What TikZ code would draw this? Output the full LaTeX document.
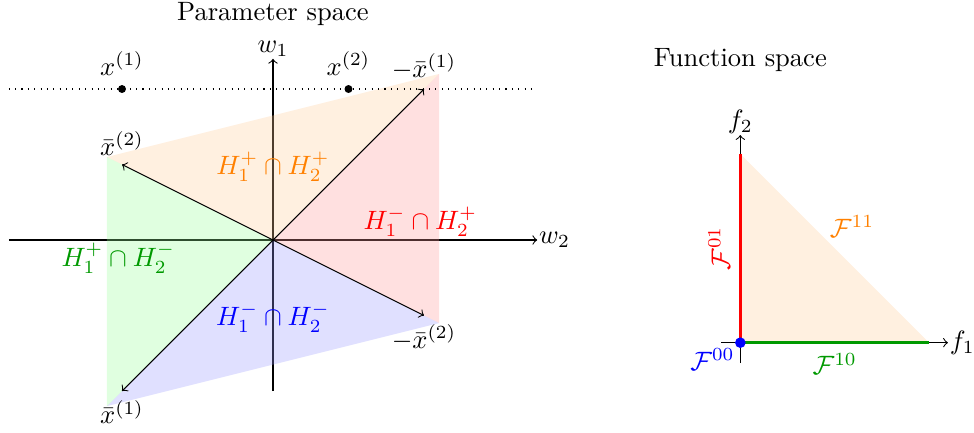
\documentclass[tikz,border=0pt]{standalone}
\usepackage{amsmath,amssymb}
\colorlet{mygreen}{green!60!black}
\tikzset{
  region/.style={fill opacity=0.3},
  vec/.style={->},
  axisline/.style={->},
  axislabel/.style={inner sep=0.5pt},
  dotpt/.style={circle,fill=black,inner sep=0pt,minimum size=3pt},
  seg/.style={very thick},
}
\begin{document}
\begin{tikzpicture}
\useasboundingbox (-3.616,-2.543) rectangle (9.285,3.179);
% ---------- Parameter space ----------
\node (ptitle) at (0,3) {Parameter space};
\coordinate (O) at (0,0);
\coordinate (axL) at (-3.5,0);
\coordinate (axR) at (3.5,0);
\coordinate (axB) at (0,-2);
\coordinate (axT) at (0,2.4);
\draw[axisline] (axL) -- (axR) node[right,axislabel] (w2) {$w_2$};
\draw[axisline] (axB) -- (axT) node[above,axislabel] (w1) {$w_1$};
% regions
\coordinate (P1) at (2.2,2.2);
\coordinate (P2) at (-2.2,1.1);
\coordinate (P3) at (-2.2,-2.2);
\coordinate (P4) at (2.2,-1.1);
\fill[orange!40,region] (O) -- (P2) -- (P1) -- cycle;
\fill[red!40,region] (O) -- (P1) -- (P4) -- cycle;
\fill[blue!40,region] (O) -- (P4) -- (P3) -- cycle;
\fill[green!40,region] (O) -- (P3) -- (P2) -- cycle;
% dotted line and points
\coordinate (dL) at (-3.5,2);
\coordinate (dR) at (3.5,2);
\draw[dotted] (dL) -- (dR);
\node[dotpt,label={[inner sep=3.33pt]above:$x^{(1)}$}] (x1) at (-2,2) {};
\node[dotpt,label={[inner sep=3.33pt]above:$x^{(2)}$}] (x2) at (1,2) {};
% vectors
\coordinate (mx1) at (2,2);
\coordinate (bx2) at (-2,1);
\coordinate (bx1) at (-2,-2);
\coordinate (mx2) at (2,-1);
\draw[vec] (O) -- (mx1);
\draw[vec] (O) -- (bx2);
\draw[vec] (O) -- (bx1);
\draw[vec] (O) -- (mx2);
\node[above] (lmx1) at (mx1) {$-\bar{x}^{(1)}$};
\node[above] (lbx2) at (bx2) {$\bar{x}^{(2)}$};
\node[below] (lbx1) at (bx1) {$\bar{x}^{(1)}$};
\node[below] (lmx2) at (mx2) {$-\bar{x}^{(2)}$};
% region labels
\node[text=orange] (Rpp) at (0,0.97) {$H_1^+\cap H_2^+$};
\node[text=red] (Rmp) at (1.95,0.24) {$H_1^-\cap H_2^+$};
\node[text=mygreen] (Rpm) at (-2.05,-0.24) {$H_1^+\cap H_2^-$};
\node[text=blue] (Rmm) at (0,-1.03) {$H_1^-\cap H_2^-$};
% ---------- Function space ----------
\node (ftitle) at (6.19,2.38) {Function space};
\begin{scope}[shift={(6.19,-1.36)}]
  \coordinate (FO) at (0,0);
  \coordinate (fL) at (-0.25,0);
  \coordinate (fR) at (2.75,0);
  \coordinate (fB) at (0,-0.27);
  \coordinate (fT) at (0,2.75);
  \coordinate (FA) at (2.5,0);
  \coordinate (FB) at (0,2.5);
  \draw[axisline] (fL) -- (fR) node[right,axislabel] (f1) {$f_1$};
  \draw[axisline] (fB) -- (fT) node[above,axislabel] (f2) {$f_2$};
  \fill[orange!40,region] (FO) -- (FA) -- (FB) -- cycle;
  \draw[seg,red] (FO) -- (FB) node[midway,above,sloped] (F01) {$\mathcal{F}^{01}$};
  \draw[seg,mygreen] (FO) -- (FA) node[midway,below] (F10) {$\mathcal{F}^{10}$};
  \node[text=orange] (F11) at (1.48,1.54) {$\mathcal{F}^{11}$};
  \fill[blue] (FO) circle (2pt);
  \node[text=blue,below left,inner sep=2pt] (F00) at (FO) {$\mathcal{F}^{00}$};
\end{scope}
\end{tikzpicture}
\end{document}
